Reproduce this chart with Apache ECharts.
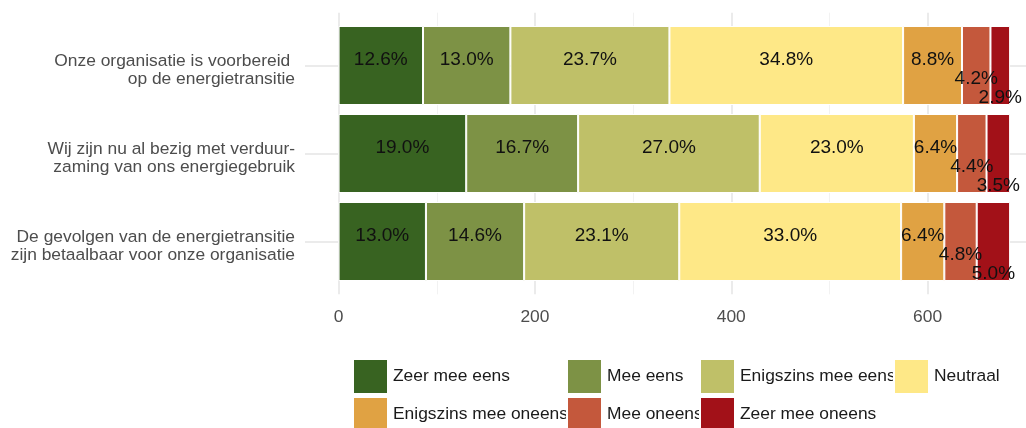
<!DOCTYPE html>
<html>
<head>
<meta charset="utf-8">
<script src="https://cdn.jsdelivr.net/npm/echarts@6/dist/echarts.min.js"></script>
<style>
  html, body { margin: 0; padding: 0; background: #fff; }
  #chart { width: 1026px; height: 428px; }
</style>
</head>
<body>
<div id="chart"></div>
<script>
const statements = [
  "Onze organisatie is voorbereid \nop de energietransitie",
  "Wij zijn nu al bezig met verduur-\nzaming van ons energiegebruik",
  "De gevolgen van de energietransitie\nzijn betaalbaar voor onze organisatie"
];

const answers = [
  "Zeer mee eens", "Mee eens", "Enigszins mee eens", "Neutraal",
  "Enigszins mee oneens", "Mee oneens", "Zeer mee oneens"
];

// counts per answer, one value per statement
const zeerMeeEens = [86, 130, 89];
const meeEens = [89, 114, 100];
const enigszinsMeeEens = [162, 185, 158];
const neutraal = [238, 157, 226];
const enigszinsMeeOneens = [60, 44, 44];
const meeOneens = [29, 30, 33];
const zeerMeeOneens = [20, 24, 34];

const counts = [zeerMeeEens, meeEens, enigszinsMeeEens, neutraal,
  enigszinsMeeOneens, meeOneens, zeerMeeOneens];

const colors = ["#386321", "#7d9245", "#bfc068", "#fee887",
  "#e0a243", "#c4583c", "#a21118"];

const xTicks = [0, 200, 400, 600];
const xMinorTicks = [100, 300, 500, 700];

const totals = statements.map((_, i) => counts.reduce((s, c) => s + c[i], 0));

// ggplot-like expansion on the left, panel cut off at the right edge
const xMin = -34.2, xMax = 700.2;

const labelOffsets = [-6, -6, -6, -6, -6, 13, 32];

const font = "'Liberation Sans', Arial, sans-serif";

const series = answers.map((name, k) => ({
  name,
  type: "bar",
  stack: "all",
  xAxisIndex: 2,
  yAxisIndex: 1,
  barWidth: 79,
  clip: false,
  itemStyle: { color: colors[k], borderColor: "#fff", borderWidth: 1 },
  label: {
    show: true,
    position: "inside",
    offset: [0, labelOffsets[k]],
    color: "#111",
    fontFamily: font,
    fontSize: 19,
    formatter: (p) => (100 * p.value / totals[p.dataIndex]).toFixed(1) + "%"
  },
  emphasis: { disabled: true },
  data: counts[k]
}));

// legend laid out in aligned columns, two rows
const legendPos = [
  [347, 353], [561, 353], [694, 353], [888, 353],
  [347, 391], [561, 391], [694, 391]
];

const chart = echarts.init(document.getElementById("chart"), null, { renderer: "canvas" });

chart.setOption({
  animation: false,
  textStyle: { fontFamily: font },
  grid: [
    { left: 305, right: 0, top: 12.7, height: 281.6 },
    { left: 305, right: 0, top: 21.5, height: 264 }
  ],
  xAxis: [
    {
      type: "value", gridIndex: 0, min: xMin, max: xMax,
      axisLine: { show: false },
      axisTick: { show: false, customValues: xTicks },
      axisLabel: {
        customValues: xTicks, color: "#4d4d4d", fontSize: 17.4,
        fontFamily: font, margin: 14
      },
      splitLine: { show: true, lineStyle: { color: "#ebebeb", width: 2 } }
    },
    {
      type: "value", gridIndex: 0, min: xMin, max: xMax, position: "top",
      axisLine: { show: false },
      axisTick: { show: false, customValues: xMinorTicks },
      axisLabel: { show: false, customValues: xMinorTicks },
      splitLine: { show: true, lineStyle: { color: "#f2f2f2", width: 1 } }
    },
    {
      type: "value", gridIndex: 1, min: xMin, max: xMax, show: false,
      splitLine: { show: false }
    }
  ],
  yAxis: [
    {
      type: "value", gridIndex: 0, inverse: true, min: 0.4, max: 3.6,
      axisLine: { show: false },
      axisTick: { show: false, customValues: [1, 2, 3] },
      axisLabel: { show: false, customValues: [1, 2, 3] },
      splitLine: { show: true, lineStyle: { color: "#ebebeb", width: 2 } }
    },
    {
      type: "category", gridIndex: 1, inverse: true, data: statements,
      axisLine: { show: false },
      axisTick: { show: false },
      splitLine: { show: false },
      axisLabel: {
        color: "#4d4d4d", fontSize: 17.4, lineHeight: 18,
        fontFamily: font, margin: 10, align: "right",
        // small spacer line on top nudges the two text lines down a bit
        formatter: (v) => "{s| }\n" + v,
        rich: { s: { fontSize: 4, lineHeight: 9 } }
      }
    }
  ],
  legend: answers.map((name, k) => ({
    left: legendPos[k][0],
    top: legendPos[k][1],
    itemWidth: 35,
    itemHeight: 35,
    icon: "rect",
    selectedMode: false,
    textStyle: { color: "#1a1a1a", fontSize: 17.4, fontFamily: font },
    data: [name]
  })),
  series
});
</script>
</body>
</html>
